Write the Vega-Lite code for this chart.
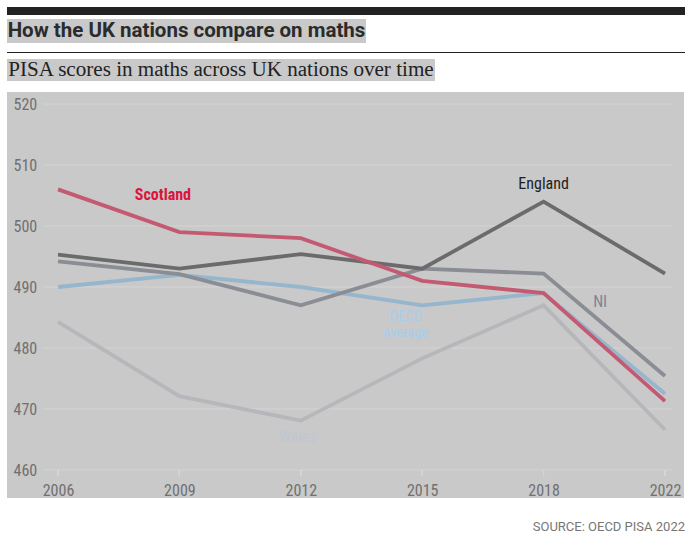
{
  "$schema": "https://vega.github.io/schema/vega-lite/v6.json",
  "padding": {"left": 7, "top": 5, "right": 13, "bottom": 14},
  "background": "white",
  "bounds": "flush",
  "spacing": 0,
  "config": {
    "view": {"stroke": null},
    "axisY": {"labelAlign": "left", "labelPadding": -6, "ticks": false, "tickSize": 0, "domain": false, "grid": false, "labelFontSize": 16, "labelColor": "#707070", "labelFont": "Liberation Sans Narrow, Roboto Condensed, DejaVu Sans Condensed, sans-serif", "labelBaseline": "middle"},
    "axisX": {"labelPadding": -3, "labelBaseline": "alphabetic", "ticks": false, "tickSize": 0, "domain": false, "grid": false, "labelFontSize": 16, "labelColor": "#707070", "labelFont": "Liberation Sans Narrow, Roboto Condensed, DejaVu Sans Condensed, sans-serif", "labelAngle": 0}
  },
  "title": {"text": "SOURCE: OECD PISA 2022", "orient": "bottom", "anchor": "end", "font": "Roboto", "fontSize": 13, "fontWeight": "normal", "color": "#777777", "offset": 23},
  "datasets": {
    "heading": [{"title": "How the UK nations compare on maths", "subtitle": "PISA scores in maths across UK nations over time"}],
    "grid": [{"score": 460}, {"score": 470}, {"score": 480}, {"score": 490}, {"score": 500}, {"score": 510}, {"score": 520}],
    "scores": [
      {"nation": "Wales", "year": "2006", "score": 484.3},
      {"nation": "Wales", "year": "2009", "score": 472.1},
      {"nation": "Wales", "year": "2012", "score": 468.1},
      {"nation": "Wales", "year": "2015", "score": 478.3},
      {"nation": "Wales", "year": "2018", "score": 487},
      {"nation": "Wales", "year": "2022", "score": 466.6},
      {"nation": "OECD average", "year": "2006", "score": 490},
      {"nation": "OECD average", "year": "2009", "score": 492},
      {"nation": "OECD average", "year": "2012", "score": 490},
      {"nation": "OECD average", "year": "2015", "score": 487},
      {"nation": "OECD average", "year": "2018", "score": 489},
      {"nation": "OECD average", "year": "2022", "score": 472.5},
      {"nation": "NI", "year": "2006", "score": 494.2},
      {"nation": "NI", "year": "2009", "score": 492.1},
      {"nation": "NI", "year": "2012", "score": 487},
      {"nation": "NI", "year": "2015", "score": 493},
      {"nation": "NI", "year": "2018", "score": 492.2},
      {"nation": "NI", "year": "2022", "score": 475.4},
      {"nation": "England", "year": "2006", "score": 495.3},
      {"nation": "England", "year": "2009", "score": 493},
      {"nation": "England", "year": "2012", "score": 495.4},
      {"nation": "England", "year": "2015", "score": 493},
      {"nation": "England", "year": "2018", "score": 504},
      {"nation": "England", "year": "2022", "score": 492.2},
      {"nation": "Scotland", "year": "2006", "score": 506},
      {"nation": "Scotland", "year": "2009", "score": 499},
      {"nation": "Scotland", "year": "2012", "score": 498},
      {"nation": "Scotland", "year": "2015", "score": 491},
      {"nation": "Scotland", "year": "2018", "score": 489},
      {"nation": "Scotland", "year": "2022", "score": 471.3}
    ]
  },
  "vconcat": [
    {"width": 678, "height": 8, "view": {"fill": "#222222"}, "data": {"name": "heading"}, "mark": {"type": "text", "opacity": 0}, "encoding": {"text": {"value": ""}}},
    {"width": 10, "height": 4, "data": {"name": "heading"}, "mark": {"type": "text", "opacity": 0}, "encoding": {"text": {"value": ""}}},
    {"width": 359, "height": 24, "view": {"fill": "#c9c9c9"}, "data": {"name": "heading"},
     "mark": {"type": "text", "font": "Roboto", "fontWeight": "bold", "fontSize": 20.5, "color": "#2b2b2b", "align": "center", "baseline": "middle"},
     "encoding": {"text": {"field": "title"}}},
    {"width": 10, "height": 9, "data": {"name": "heading"}, "mark": {"type": "text", "opacity": 0}, "encoding": {"text": {"value": ""}}},
    {"width": 678, "height": 1, "view": {"fill": "#222222"}, "data": {"name": "heading"}, "mark": {"type": "text", "opacity": 0}, "encoding": {"text": {"value": ""}}},
    {"width": 10, "height": 6, "data": {"name": "heading"}, "mark": {"type": "text", "opacity": 0}, "encoding": {"text": {"value": ""}}},
    {"width": 428, "height": 22, "view": {"fill": "#c9c9c9"}, "data": {"name": "heading"},
     "mark": {"type": "text", "font": "Liberation Serif", "fontSize": 21.1, "color": "#222222", "align": "center", "baseline": "middle"},
     "encoding": {"text": {"field": "subtitle"}}},
    {"width": 10, "height": 11, "data": {"name": "heading"}, "mark": {"type": "text", "opacity": 0}, "encoding": {"text": {"value": ""}}},
    {
      "width": 677,
      "height": 406,
      "view": {"fill": "#c9c9c9"},
      "layer": [
        {
          "data": {"name": "grid"},
          "mark": {"type": "rule", "color": "#d4d4d4", "strokeWidth": 1, "xOffset": -15, "x2Offset": 7},
          "encoding": {
            "y": {"field": "score", "type": "quantitative", "title": null, "scale": {"domain": [455.41, 521.97], "nice": false, "zero": false}, "axis": {"values": [460, 470, 480, 490, 500, 510, 520]}},
            "x": {"datum": "2006", "type": "ordinal", "title": null, "scale": {"type": "point", "domain": ["2006", "2009", "2012", "2015", "2018", "2022"], "range": [51, 658], "padding": 0}},
            "x2": {"datum": "2022"}
          }
        },
        {
          "data": {"name": "scores"},
          "mark": {"type": "rule", "color": "#d6d6d6", "strokeWidth": 1},
          "encoding": {
            "x": {"field": "year", "type": "ordinal", "title": null},
            "y": {"datum": 460, "type": "quantitative"},
            "y2": {"datum": 459.0}
          }
        },
        {
          "data": {"name": "scores"},
          "mark": {"type": "line", "strokeWidth": 3.8, "strokeJoin": "miter", "strokeCap": "butt"},
          "encoding": {
            "x": {"field": "year", "type": "ordinal", "title": null},
            "y": {"field": "score", "type": "quantitative", "title": null},
            "color": {"field": "nation", "type": "nominal", "legend": null, "sort": ["Wales", "OECD average", "NI", "England", "Scotland"],
              "scale": {"domain": ["Wales", "OECD average", "NI", "England", "Scotland"], "range": ["#b6b7bb", "#95b6cd", "#8b8d95", "#6b6b6b", "#c45a72"]}}
          }
        },
        {
          "data": {"values": [{"label": "Scotland", "year": "2009", "score": 504.3}]},
          "mark": {"type": "text", "font": "Liberation Sans Narrow, Roboto Condensed, DejaVu Sans Condensed, sans-serif", "fontSize": 16, "fontWeight": "bold", "color": "#d8163c", "align": "center", "baseline": "alphabetic", "dx": -16.5},
          "encoding": {"x": {"field": "year", "type": "ordinal"}, "y": {"field": "score", "type": "quantitative"}, "text": {"field": "label"}}
        },
        {
          "data": {"values": [{"label": "England", "year": "2018", "score": 506.1}]},
          "mark": {"type": "text", "font": "Liberation Sans Narrow, Roboto Condensed, DejaVu Sans Condensed, sans-serif", "fontSize": 16, "color": "#1e1e1e", "align": "center", "baseline": "alphabetic"},
          "encoding": {"x": {"field": "year", "type": "ordinal"}, "y": {"field": "score", "type": "quantitative"}, "text": {"field": "label"}}
        },
        {
          "data": {"values": [{"label": "NI", "year": "2018", "score": 486.7}]},
          "mark": {"type": "text", "font": "Liberation Sans Narrow, Roboto Condensed, DejaVu Sans Condensed, sans-serif", "fontSize": 16, "color": "#7d8496", "align": "center", "baseline": "alphabetic", "dx": 56.5},
          "encoding": {"x": {"field": "year", "type": "ordinal"}, "y": {"field": "score", "type": "quantitative"}, "text": {"field": "label"}}
        },
        {
          "data": {"values": [{"label": "OECD\naverage", "year": "2015", "score": 484.4}]},
          "mark": {"type": "text", "font": "Liberation Sans Narrow, Roboto Condensed, DejaVu Sans Condensed, sans-serif", "fontSize": 14.5, "color": "#a6cdee", "align": "center", "baseline": "alphabetic", "dx": -16.5, "lineBreak": "\n", "lineHeight": 16},
          "encoding": {"x": {"field": "year", "type": "ordinal"}, "y": {"field": "score", "type": "quantitative"}, "text": {"field": "label"}}
        },
        {
          "data": {"values": [{"label": "Wales", "year": "2012", "score": 464.6}]},
          "mark": {"type": "text", "font": "Liberation Sans Narrow, Roboto Condensed, DejaVu Sans Condensed, sans-serif", "fontSize": 16, "color": "#bfc6d3", "align": "center", "baseline": "alphabetic", "dx": -3},
          "encoding": {"x": {"field": "year", "type": "ordinal"}, "y": {"field": "score", "type": "quantitative"}, "text": {"field": "label"}}
        }
      ]
    }
  ]
}
